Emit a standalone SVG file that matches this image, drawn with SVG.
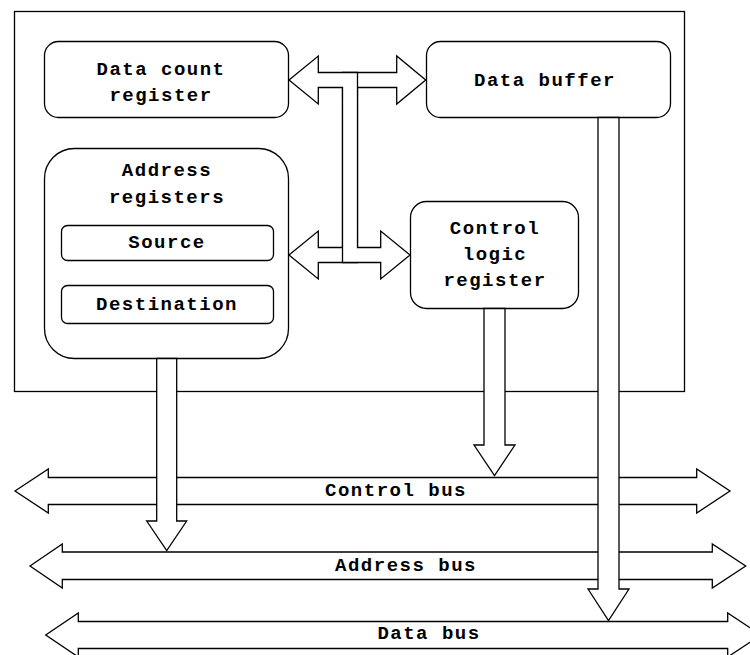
<svg xmlns="http://www.w3.org/2000/svg" width="750" height="655" viewBox="0 0 750 655">
  <defs>
    <style>
      .frame { fill: #ffffff; stroke: #000000; stroke-width: 1.3; }
      .box { fill: #ffffff; stroke: #000000; stroke-width: 1.3; }
      .arrow { fill: #ffffff; stroke: #000000; stroke-width: 1.3; stroke-linejoin: miter; }
      .label { font-family: "Liberation Mono", "Courier New", monospace; font-weight: bold; font-size: 19px; letter-spacing: 1.5px; fill: #000000; text-anchor: middle; dominant-baseline: central; }
    </style>
  </defs>
  <rect width="750" height="655" fill="#ffffff"/>

  <!-- DMA controller outline -->
  <rect id="controller" class="frame" x="14.5" y="11.5" width="670" height="380"/>

  <!-- system buses -->
  <g id="control-bus">
    <path class="arrow" d="M15,491 L48.3,469 L48.3,477.5 L696.7,477.5 L696.7,469 L730,491 L696.7,513 L696.7,504.5 L48.3,504.5 L48.3,513 Z"/>
    <text class="label" x="396" y="491">Control bus</text>
  </g>
  <g id="address-bus">
    <path class="arrow" d="M30,566 L62.3,544 L62.3,552 L712.3,552 L712.3,544 L745.7,566 L712.3,588 L712.3,579.5 L62.3,579.5 L62.3,588 Z"/>
    <text class="label" x="406" y="566">Address bus</text>
  </g>
  <g id="data-bus">
    <path class="arrow" d="M45.7,635 L78.3,613 L78.3,621.5 L727.7,621.5 L727.7,613 L761,635 L727.7,657 L727.7,648.5 L78.3,648.5 L78.3,657 Z"/>
    <text class="label" x="429" y="634">Data bus</text>
  </g>

  <!-- registers -->
  <g id="data-count-register">
    <rect class="box" x="44.5" y="41.5" width="244" height="76" rx="14"/>
    <text class="label" x="161" y="70">Data count</text>
    <text class="label" x="161" y="96">register</text>
  </g>
  <g id="data-buffer">
    <rect class="box" x="426.5" y="41.5" width="244" height="76" rx="14"/>
    <text class="label" x="545" y="81">Data buffer</text>
  </g>
  <g id="address-registers">
    <rect class="box" x="44.5" y="148.5" width="244" height="210" rx="30"/>
    <text class="label" x="167" y="171">Address</text>
    <text class="label" x="167" y="198">registers</text>
  </g>
  <g id="source">
    <rect class="box" x="61.5" y="225.5" width="212" height="35" rx="6"/>
    <text class="label" x="167" y="243">Source</text>
  </g>
  <g id="destination">
    <rect class="box" x="61.5" y="285.5" width="212" height="38" rx="6"/>
    <text class="label" x="167" y="305">Destination</text>
  </g>
  <g id="control-logic-register">
    <rect class="box" x="410.5" y="201.5" width="168" height="107" rx="16"/>
    <text class="label" x="495" y="229">Control</text>
    <text class="label" x="495" y="255">logic</text>
    <text class="label" x="495" y="281">register</text>
  </g>

  <!-- internal and outgoing connectors -->
  <g id="connectors">
    <!-- top-right / bottom-left branch of the internal bus -->
    <path class="arrow" d="M289,255 L318.3,231 L318.3,247.5 L342.5,247.5 L342.5,72.5 L396.7,72.5 L396.7,56 L425.7,80 L396.7,104 L396.7,87.5 L357.5,87.5 L357.5,262.5 L318.3,262.5 L318.3,279 Z"/>
    <!-- top-left / bottom-right branch of the internal bus -->
    <path class="arrow" d="M289,80 L318.3,56 L318.3,72.5 L357.5,72.5 L357.5,247.5 L380.7,247.5 L380.7,231 L410,255 L380.7,279 L380.7,262.5 L342.5,262.5 L342.5,87.5 L318.3,87.5 L318.3,104 Z"/>
    <!-- address registers to address bus -->
    <path class="arrow" d="M156.7,358.5 L176.7,358.5 L176.7,521 L186.7,521 L166.7,550.7 L146.7,521 L156.7,521 Z"/>
    <!-- control logic to control bus -->
    <path class="arrow" d="M484,308.5 L505,308.5 L505,445 L515,445 L494.5,475.5 L474,445 L484,445 Z"/>
    <!-- data buffer to data bus -->
    <path class="arrow" d="M598,117.5 L619,117.5 L619,589 L629,589 L608.5,620.5 L588,589 L598,589 Z"/>
  </g>
</svg>
